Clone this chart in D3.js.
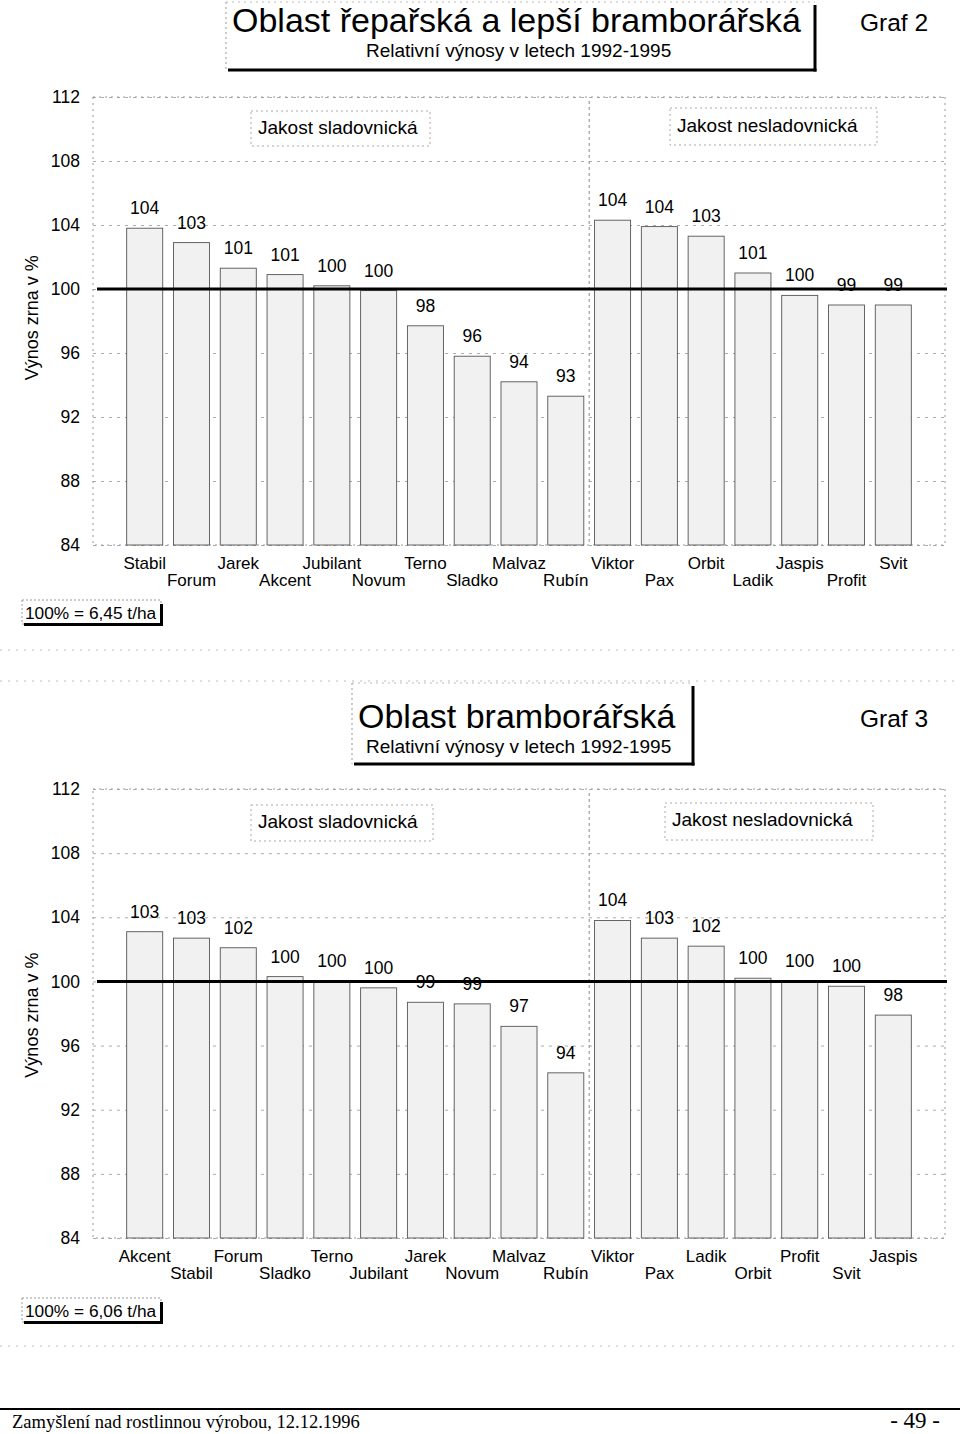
<!DOCTYPE html>
<html><head><meta charset="utf-8">
<script src="https://cdn.jsdelivr.net/npm/d3@7"></script>
<style>
body{margin:0;background:#fff;}
svg{display:block;font-family:"Liberation Sans",Arial,sans-serif;}
</style></head>
<body>
<svg id="c" width="960" height="1434"></svg>
<script>
// ---- data ----
const yTicks = [84, 88, 92, 96, 100, 104, 108, 112];
const categoriesG2 = ["Stabil","Forum","Jarek","Akcent","Jubilant","Novum","Terno","Sladko","Malvaz","Rubín","Viktor","Pax","Orbit","Ladik","Jaspis","Profit","Svit"];
const valuesG2 = [103.8, 102.9, 101.3, 100.9, 100.2, 99.9, 97.7, 95.8, 94.2, 93.3, 104.3, 103.9, 103.3, 101.0, 99.6, 99.0, 99.0];
const categoriesG3 = ["Akcent","Stabil","Forum","Sladko","Terno","Jubilant","Jarek","Novum","Malvaz","Rubín","Viktor","Pax","Ladik","Orbit","Profit","Svit","Jaspis"];
const valuesG3 = [103.1, 102.7, 102.1, 100.3, 100.0, 99.6, 98.7, 98.6, 97.2, 94.3, 103.8, 102.7, 102.2, 100.2, 100.0, 99.7, 97.9];
const groupLabels = ["Jakost sladovnická", "Jakost nesladovnická"];
const yTitle = "Výnos zrna v %";
const subtitle = "Relativní výnosy v letech 1992-1995";

const svg = d3.select("#c");

function titleBox(o){
  const g = svg.append("g");
  g.append("line").attr("x1",o.x0).attr("x2",o.x0).attr("y1",o.y0).attr("y2",o.y1)
    .attr("stroke","#999").attr("stroke-dasharray","2,3");
  g.append("line").attr("x1",o.x0).attr("x2",o.x1).attr("y1",o.y0).attr("y2",o.y0)
    .attr("stroke","#bbb").attr("stroke-dasharray","2,4");
  g.append("line").attr("x1",o.x0+2).attr("x2",o.x1+1.5).attr("y1",o.y1).attr("y2",o.y1)
    .attr("stroke","#000").attr("stroke-width",3);
  g.append("line").attr("x1",o.x1).attr("x2",o.x1).attr("y1",o.y0+3).attr("y2",o.y1+1.5)
    .attr("stroke","#000").attr("stroke-width",3);
  g.append("text").attr("x",o.tx).attr("y",o.ty).attr("font-size",34).text(o.title);
  g.append("text").attr("x",o.sx).attr("y",o.sy).attr("font-size",19).text(subtitle);
  g.append("text").attr("x",860).attr("y",o.ty-1).attr("font-size",24.5).text(o.graf);
}

function noteBox(x0,y0,x1,y1,txt,tx,ty){
  svg.append("rect").attr("x",x0).attr("y",y0).attr("width",x1-x0).attr("height",y1-y0)
    .attr("fill","#fff").attr("stroke","#aaa").attr("stroke-dasharray","2,3");
  svg.append("text").attr("x",tx).attr("y",ty).attr("font-size",19).text(txt);
}

function baseBox(y0,txt){
  svg.append("rect").attr("x",22).attr("y",y0).attr("width",139).attr("height",24)
    .attr("fill","#fff").attr("stroke","#999").attr("stroke-dasharray","2,2");
  svg.append("line").attr("x1",24).attr("x2",163).attr("y1",y0+24.5).attr("y2",y0+24.5).attr("stroke","#000").attr("stroke-width",3);
  svg.append("line").attr("x1",161.5).attr("x2",161.5).attr("y1",y0+4).attr("y2",y0+26).attr("stroke","#000").attr("stroke-width",3);
  svg.append("text").attr("x",25).attr("y",y0+19).attr("font-size",17.3).text(txt);
}

function drawChart(cats, vals, top, bottom, titleAt){
  const left = 93, right = 945;
  const y = d3.scaleLinear().domain([84,112]).range([bottom, top]);
  const x = d3.scaleBand().domain(cats).range([left,right]).paddingInner(0.23).paddingOuter(0.72);
  const g = svg.append("g");

  const ya = g.append("g").attr("transform",`translate(${left},0)`)
    .call(d3.axisLeft(y).tickValues(yTicks).tickSize(-(right-left)).tickPadding(13).tickFormat(d3.format("d")));
  ya.select(".domain").remove();
  ya.selectAll(".tick line").attr("stroke","#aaa").attr("stroke-dasharray","3,5");
  ya.selectAll(".tick text").attr("font-size",17.5).attr("fill","#000")
    .attr("font-family","Liberation Sans, Arial, sans-serif");

  g.append("rect").attr("x",left).attr("y",top).attr("width",right-left).attr("height",bottom-top)
    .attr("fill","none").attr("stroke","#999").attr("stroke-dasharray","2,4");

  const dx = (x(cats[9]) + x.bandwidth() + x(cats[10]))/2;
  g.append("line").attr("x1",dx).attr("x2",dx).attr("y1",top+4).attr("y2",bottom)
    .attr("stroke","#888").attr("stroke-dasharray","3,3");

  g.selectAll("rect.bar").data(vals).join("rect").attr("class","bar")
    .attr("x",(d,i)=>x(cats[i])).attr("width",x.bandwidth())
    .attr("y",d=>y(d)).attr("height",d=>y(84)-y(d))
    .attr("fill","#f1f1f1").attr("stroke","#555").attr("stroke-width",0.9);

  g.selectAll("text.val").data(vals).join("text").attr("class","val")
    .attr("x",(d,i)=>x(cats[i])+x.bandwidth()/2).attr("y",d=>y(d)-14)
    .attr("text-anchor","middle").attr("font-size",17.5).text(d=>Math.round(d));

  g.append("line").attr("x1",left+4).attr("x2",right+2).attr("y1",y(100)).attr("y2",y(100))
    .attr("stroke","#000").attr("stroke-width",3);

  const xa = g.append("g").attr("transform",`translate(0,${bottom})`)
    .call(d3.axisBottom(x).tickSize(0).tickPadding(0));
  xa.select(".domain").remove();
  xa.selectAll(".tick text").attr("font-size",17).attr("fill","#000")
    .attr("font-family","Liberation Sans, Arial, sans-serif")
    .attr("dy",null).attr("y",(d,i)=> i%2===0 ? 24 : 41);

  svg.append("text").attr("transform",`translate(38,${y(titleAt)}) rotate(-90)`)
    .attr("text-anchor","middle").attr("font-size",18).text(yTitle);
}

// ---- Graf 2 ----
titleBox({x0:226,y0:2,x1:815,y1:70,tx:232,ty:32,sx:366,sy:57,
  title:"Oblast řepařská a lepší bramborářská",graf:"Graf 2"});
drawChart(categoriesG2, valuesG2, 97, 545, 98.2);
noteBox(251,111,430,146,groupLabels[0],258,134);
noteBox(670,108,877,145,groupLabels[1],677,132);
baseBox(600,"100% = 6,45 t/ha");

[650,681].forEach(yy=>svg.append("line").attr("x1",0).attr("x2",960).attr("y1",yy).attr("y2",yy)
  .attr("stroke","#bbb").attr("stroke-dasharray","2,6"));

// ---- Graf 3 ----
titleBox({x0:352,y0:683,x1:693,y1:764,tx:358,ty:728,sx:366,sy:753,
  title:"Oblast bramborářská",graf:"Graf 3"});
drawChart(categoriesG3, valuesG3, 789, 1238, 97.9);
noteBox(251,805,433,841,groupLabels[0],258,828);
noteBox(665,803,873,840,groupLabels[1],672,826);
baseBox(1298,"100% = 6,06 t/ha");

svg.append("line").attr("x1",0).attr("x2",960).attr("y1",1346).attr("y2",1346)
  .attr("stroke","#bbb").attr("stroke-dasharray","2,6");

// footer
svg.append("line").attr("x1",0).attr("x2",960).attr("y1",1409).attr("y2",1409).attr("stroke","#000").attr("stroke-width",2);
svg.append("text").attr("x",12).attr("y",1428).attr("font-family","Liberation Serif, Times New Roman, serif")
  .attr("font-size",18.5).text("Zamyšlení nad rostlinnou výrobou, 12.12.1996");
svg.append("text").attr("x",940).attr("y",1428).attr("text-anchor","end").attr("font-family","Liberation Serif, Times New Roman, serif")
  .attr("font-size",23).text("- 49 -");
</script>
</body></html>
